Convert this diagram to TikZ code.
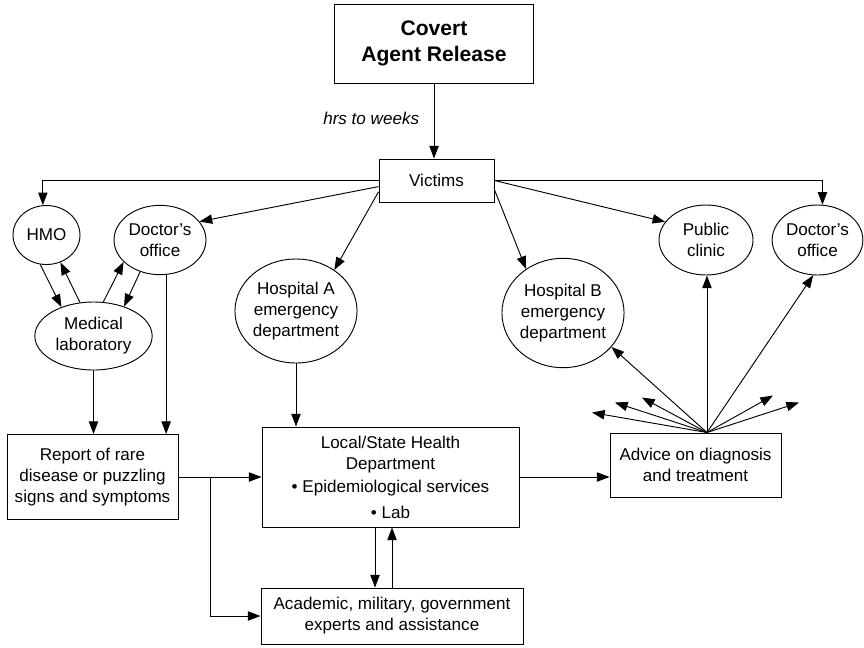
\documentclass[tikz,border=0pt]{standalone}
\usepackage{fontspec}
\setmainfont{Liberation Sans}
\usetikzlibrary{arrows.meta,shapes.geometric}
\tikzset{
  >={Triangle[length=9.5pt,width=7pt]},
  txt/.style={font=\fontsize{12.8}{15.75}\selectfont},
  box/.style={draw,line width=0.7pt,align=center,inner sep=2pt,txt,
    minimum width=#1},
  box/.default=60pt,
  spot/.style={draw,ellipse,line width=0.7pt,align=center,inner sep=0pt,txt},
  link/.style={->,line width=0.7pt},
}
\begin{document}
\begin{tikzpicture}[x=0.75pt,y=-0.75pt]
  \useasboundingbox (0,0) rectangle (864,647);
  % boxes
  \node[box=149.25pt,minimum height=59.25pt,font=\fontsize{15.8}{19}\selectfont\bfseries] (covert) at (434,43.5) {Covert\\Agent Release};
  \node[box=86.25pt,minimum height=32.25pt] (victims) at (436.5,180.5) {Victims};
  \node[box=128.25pt,minimum height=63.75pt] (report) at (92.5,477) {Report of rare\\disease or puzzling\\signs and symptoms};
  \node[box=192.75pt,minimum height=75pt] (local) at (390.5,477) {Local/State Health\\Department\\[1.5pt]• Epidemiological services\\[3.75pt]• Lab};
  \node[box=128.25pt,minimum height=48pt] (advice) at (695.5,465) {Advice on diagnosis\\and treatment};
  \node[box=196.5pt,minimum height=42pt] (academic) at (392,616) {Academic, military, government\\experts and assistance};
  % ellipses
  \node[spot,minimum width=50.25pt,minimum height=44.25pt] (hmo) at (46.5,235) {HMO};
  \node[spot,minimum width=69pt,minimum height=52pt] (docL) at (160,240) {Doctor’s\\office};
  \node[spot,minimum width=88pt,minimum height=51pt] (lab) at (93.5,336) {Medical\\laboratory};
  \node[spot,minimum width=91.5pt,minimum height=78pt] (hospA) at (296,311) {Hospital A\\emergency\\department};
  \node[spot,minimum width=91.5pt,minimum height=82pt] (hospB) at (563,313) {Hospital B\\emergency\\department};
  \node[spot,minimum width=70.5pt,minimum height=52.5pt] (clinic) at (706,240) {Public\\clinic};
  \node[spot,minimum width=68pt,minimum height=52.5pt] (docR) at (817.5,240) {Doctor’s\\office};

  \draw[link] (covert.south) -- (covert.south |- victims.north)
    node[pos=0.46,left=7.5pt,font=\fontsize{12.8}{15.75}\selectfont\itshape] {hrs to weeks};
  \draw[link] (victims.west) -| (hmo.97);
  \draw[link] (victims.186) -- (docL.25);
  \draw[link] (victims.191) -- (hospA.47);
  \draw[link] (victims.-9) -- (hospB.130);
  \draw[link] (victims.east) -- (clinic.156);
  \draw[link] (victims.east) -| (docR.82);

  \draw[link] (hmo.258) -- (lab.138);
  \draw[link] (lab.112) -- (hmo.297);
  \draw[link] (lab.74) -- (docL.211);
  \draw[link] (docL.238) -- (lab.44.5);
  \draw[link] (lab.south) -- (lab.south |- report.north);
  \draw[link] (docL.-80) -- (docL.-80 |- report.north);
  \draw[link] (hospA.south) -- (hospA.south |- local.north);

  \draw[link] (report.east) -- (local.west);
  \draw[link] (local.east) -- (local.east -| advice.west);
  \coordinate (split) at (210,477);
  \draw[link] (split) |- (academic.west);
  \coordinate (down) at ([xshift=-11.6pt]local.south);
  \draw[link] (down) -- (down |- academic.north);
  \draw[link] (academic.north) -- (academic.north |- local.south);

  % advice fans out
  \coordinate (fan) at ([xshift=8.6pt]advice.north);
  \draw[link] (fan) -- (hospB.-35);
  \draw[link] (fan) -- (fan |- clinic.south);
  \draw[link] (fan) -- (docR.-97);
  \foreach \dx/\dy [count=\i] in {-115/-20,-92/-30,-65/-35,66/-37,92/-30}{
    \coordinate (free\i) at ([shift={(\dx,\dy)}]fan);
    \draw[link] (fan) -- (free\i);
  }
\end{tikzpicture}
\end{document}
